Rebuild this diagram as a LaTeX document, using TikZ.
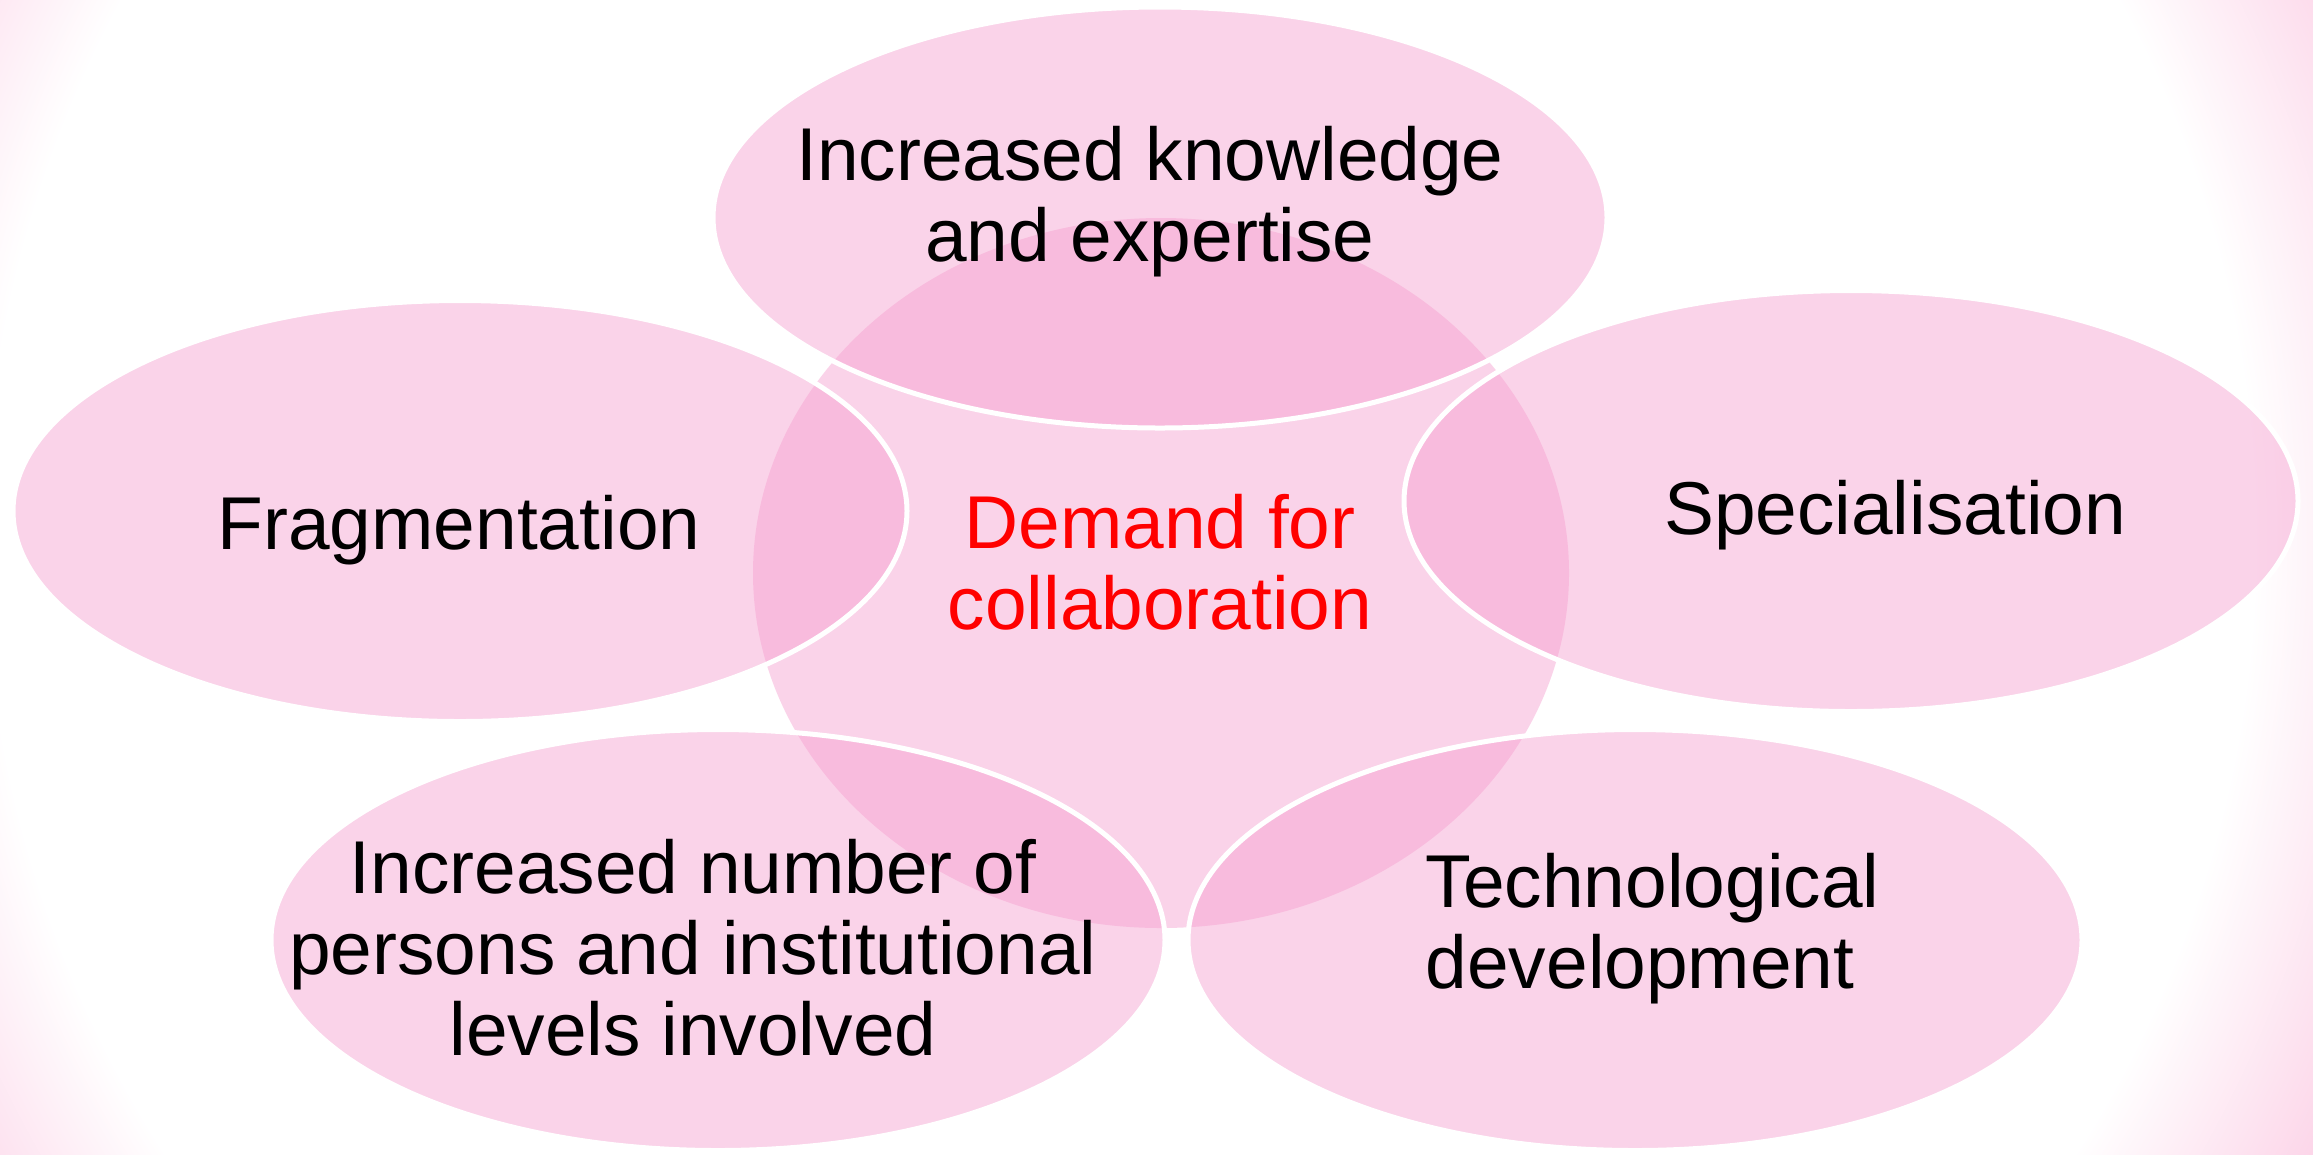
\documentclass[tikz,border=0pt]{standalone}
\usepackage{fontspec}
\setmainfont{Liberation Sans}
\definecolor{rosa}{RGB}{246,158,207}
\definecolor{bordo}{RGB}{252,212,232}
\pgfdeclareradialshading{vignetta}{\pgfpoint{0bp}{0bp}}{color(0bp)=(white); color(21bp)=(white); color(25bp)=(bordo); color(50bp)=(bordo)}
\tikzset{
  ellisse/.style={draw=white, line width=0.05cm, fill=rosa, fill opacity=0.45},
  testo/.style={font=\fontsize{21.3}{23}\selectfont, inner sep=0pt, align=center}
}
\begin{document}
\begin{tikzpicture}
   \useasboundingbox (0,0) rectangle (23.13,-11.54);
   %sfondo
   \begin{scope}
      \clip (0,0) rectangle (23.13,-11.54);
      \shade[shading=vignetta] (-2.3,-18.9) rectangle (24.7,8.1);
   \end{scope}
   %ellissi
   \fill[rosa, fill opacity=0.45] (11.61,-5.73) ellipse (4.08 and 3.55);
   \draw[ellisse] (11.60,-2.175) ellipse (4.47 and 2.105);
   \draw[ellisse] (4.60,-5.11) ellipse (4.47 and 2.105);
   \draw[ellisse] (18.51,-5.01) ellipse (4.47 and 2.105);
   \draw[ellisse] (7.18,-9.40) ellipse (4.47 and 2.105);
   \draw[ellisse] (16.35,-9.40) ellipse (4.47 and 2.105);
   %testi
   \node[testo, anchor=north] (conoscenza) at (11.50,-1.26) {Increased knowledge\\and expertise};
   \node[testo, anchor=base] (frammentazione) at (4.59,-5.49) {Fragmentation};
   \node[testo, anchor=base] (specializzazione) at (18.95,-5.34) {Specialisation};
   \node[testo, anchor=north, text=red] (domanda) at (11.60,-4.94) {Demand for\\collaboration};
   \node[testo, anchor=north] (persone) at (6.93,-8.39) {Increased number of\\persons and institutional\\levels involved};
   \node[testo, anchor=north west, align=left] (tecnologia) at (14.25,-8.53) {Technological\\development};
\end{tikzpicture}
\end{document}
